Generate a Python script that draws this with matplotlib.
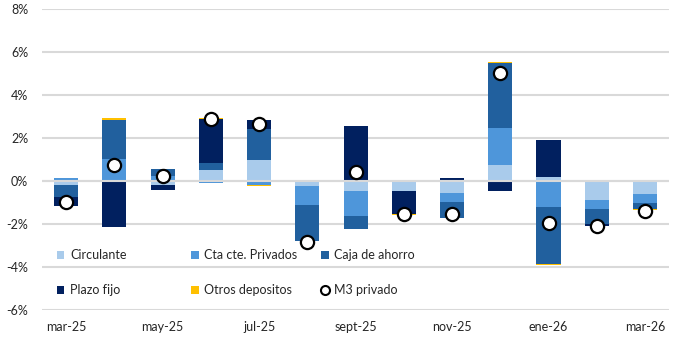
import numpy as np
import matplotlib
matplotlib.use("Agg")
import matplotlib.pyplot as plt
from matplotlib.lines import Line2D
from matplotlib.patches import Patch

plt.rcParams['font.family'] = ['Lato', 'DejaVu Sans']

months = ["mar-25", "abr-25", "may-25", "jun-25", "jul-25", "ago-25", "sept-25",
          "oct-25", "nov-25", "dic-25", "ene-26", "feb-26", "mar-26"]
tick_labels = ["mar-25", "", "may-25", "", "jul-25", "", "sept-25",
               "", "nov-25", "", "ene-26", "", "mar-26"]

circulante = [-0.20, 0.00, -0.20, 0.50, 0.96, -0.25, -0.48, -0.48, -0.55, 0.73, 0.19, -0.90, -0.60]
cta_cte    = [0.12, 1.03, 0.25, -0.07, -0.18, -0.88, -1.13, 0.00, -0.42, 1.72, -1.21, -0.42, -0.42]
caja       = [-0.55, 1.83, 0.30, 0.36, 1.47, -1.67, -0.60, 0.06, -0.73, 3.04, -2.67, -0.70, -0.28]
plazo_fijo = [-0.40, -2.16, -0.20, 2.02, 0.43, 0.00, 2.55, -1.07, 0.12, -0.47, 1.72, -0.07, 0.00]
otros      = [0.03, 0.05, 0.03, 0.03, -0.04, 0.00, 0.03, -0.03, 0.03, 0.03, -0.03, 0.00, -0.03]
m3_privado = [-0.96, 0.74, 0.23, 2.88, 2.65, -2.85, 0.43, -1.53, -1.53, 5.04, -1.94, -2.09, -1.40]

series = [
    ("Circulante", circulante, "#A9CBEB"),
    ("Cta cte. Privados", cta_cte, "#4E96DA"),
    ("Caja de ahorro", caja, "#21609E"),
    ("Plazo fijo", plazo_fijo, "#01205F"),
    ("Otros depositos", otros, "#FFC000"),
]

fig = plt.figure(figsize=(6.8, 3.4), dpi=100)
ax = fig.add_axes([0.0618, 0.0882, 0.9222, 0.8853])

x = np.arange(len(months))
pos_bottom = np.zeros(len(months))
neg_bottom = np.zeros(len(months))
for name, vals, col in series:
    v = np.array(vals, dtype=float)
    bottom = np.where(v >= 0, pos_bottom, neg_bottom)
    ax.bar(x, v, bottom=bottom, width=0.5, color=col, zorder=2, linewidth=0)
    pos_bottom += np.where(v >= 0, v, 0)
    neg_bottom += np.where(v < 0, v, 0)

ax.axhline(0, color="#D9D9D9", lw=1.5, zorder=3)
ax.plot(x, m3_privado, linestyle="none", marker="o", ms=9.5, mfc="white",
        mec="black", mew=1.6, zorder=4)

ax.set_xlim(-0.5, 12.5)
ax.set_ylim(-6, 8)
yt = np.arange(-6, 9, 2)
ax.set_yticks(yt)
ax.set_yticklabels([f"{v}%" for v in yt])
ax.set_xticks(x)
ax.set_xticklabels(tick_labels)
ax.grid(axis="y", color="#D9D9D9", lw=1.5, zorder=0)
ax.set_axisbelow(True)
for s in ax.spines.values():
    s.set_visible(False)
ax.tick_params(axis="both", length=0, labelsize=9, colors="#262626")
ax.tick_params(axis="y", pad=10)
ax.tick_params(axis="x", pad=8)

handles = [Patch(facecolor=c, edgecolor="none") for _, _, c in series]
labels = [n for n, _, _ in series]
handles.append(Line2D([], [], linestyle="none", marker="o", ms=6.5, mfc="white",
                      mec="black", mew=1.5))
labels.append("M3 privado")

columns = [([0, 3], 57), ([1, 4], 191), ([2, 5], 321)]
for idx, xpix in columns:
    leg = fig.legend([handles[i] for i in idx], [labels[i] for i in idx], ncol=1,
                     loc="center left", bbox_to_anchor=(xpix / 680, 1 - 272.5 / 340),
                     bbox_transform=fig.transFigure, frameon=False,
                     fontsize=9, handlelength=0.6, handleheight=0.6, handletextpad=0.45,
                     labelspacing=1.85, borderaxespad=0, borderpad=0)
    for t in leg.get_texts():
        t.set_color("#262626")

fig.savefig("out.png", dpi=100)
